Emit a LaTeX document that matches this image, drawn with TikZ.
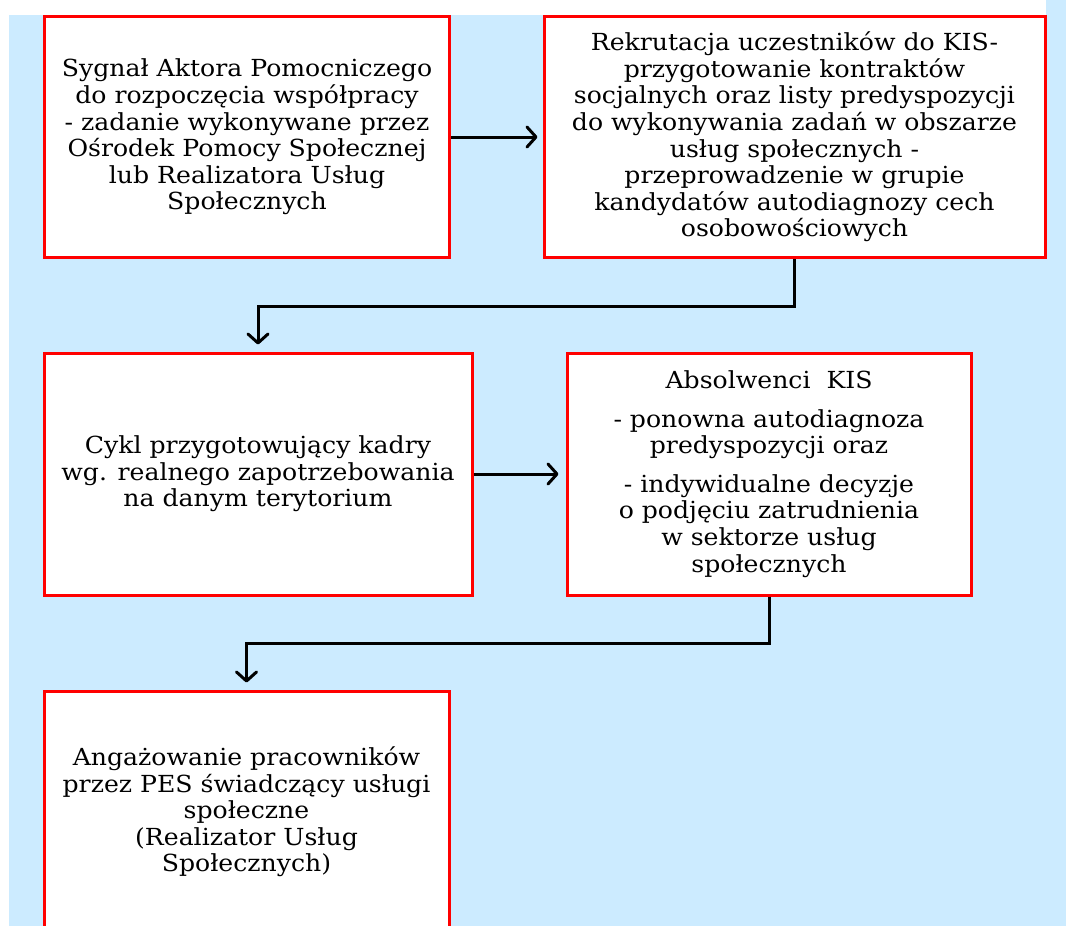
\documentclass[tikz,border=0pt]{standalone}
\usepackage{fontspec}
\setmainfont[FakeStretch=1.07]{DejaVu Serif}
\usetikzlibrary{arrows.meta}
\definecolor{bgblue}{RGB}{204,235,255}
\definecolor{boxred}{RGB}{255,0,0}
\tikzset{
  box/.style={draw=boxred, line width=3pt, fill=white, rectangle, align=center,
    inner sep=0pt, font=\fontsize{23.5}{26.6}\selectfont},
  arr/.style={line width=3pt, -{Straight Barb[length=9pt,width=20pt,line cap=round,line join=round]}},
}
\begin{document}
\begin{tikzpicture}[x=1pt,y=-1pt]
\clip (0,0) rectangle (1066,926);
\fill[white] (0,0) rectangle (1066,926);
\fill[bgblue] (9,15) rectangle (1066,926);
\fill[bgblue] (1046,0) rectangle (1066,15);

\node[box, minimum width=405pt, minimum height=241pt] (b1) at (247,137)
  {Sygnał Aktora Pomocniczego\\do rozpoczęcia współpracy\\- zadanie wykonywane przez\\Ośrodek Pomocy Społecznej\\lub Realizatora Usług\\Społecznych};
\node[box, minimum width=501pt, minimum height=241pt] (b2) at (794.5,137)
  {Rekrutacja uczestników do KIS-\\przygotowanie kontraktów\\socjalnych oraz listy predyspozycji\\do wykonywania zadań w obszarze\\usług społecznych -\\przeprowadzenie w grupie\\kandydatów autodiagnozy cech\\osobowościowych};
\node[box, minimum width=428pt, minimum height=242pt] (b3) at (258,474)
  {Cykl przygotowujący kadry\\wg. realnego zapotrzebowania\\na danym terytorium};
\node[box, minimum width=404pt, minimum height=242pt] (b4) at (769,474)
  {Absolwenci\ \ KIS\\[12pt]- ponowna autodiagnoza\\predyspozycji oraz\\[12pt]- indywidualne decyzje\\o podjęciu zatrudnienia\\w sektorze usług\\społecznych};
\node[box, minimum width=405pt, minimum height=242pt] (b5) at (246.5,812)
  {Angażowanie pracowników\\przez PES świadczący usługi\\społeczne\\(Realizator Usług\\Społecznych)};

\draw[arr, shorten >=5pt] (b1.east) -- (b2.west);
\draw[arr, shorten >=7pt] (b3.east) -- (b4.west);
\draw[arr, shorten >=7pt] (b2.south) -- ++(0,47) -| (b3.north);
\draw[arr, shorten >=7pt] (b4.south) -- ++(0,47) -| (b5.north);
\end{tikzpicture}
\end{document}
